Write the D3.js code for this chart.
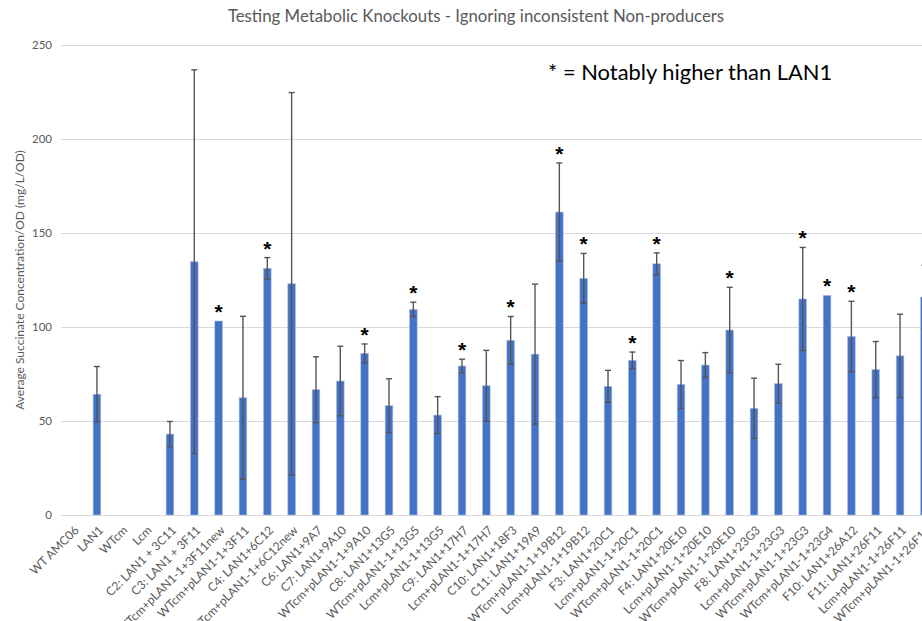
<!DOCTYPE html>
<html>
<head>
<meta charset="utf-8">
<script src="https://cdn.jsdelivr.net/npm/d3@7"></script>
<style>
  html, body { margin: 0; padding: 0; background: #fff; overflow: hidden; }
  svg { display: block; }
</style>
</head>
<body>
<script>
// Strains / constructs tested
const categories = [
  "WT AMC06", "LAN1", "WTcm", "Lcm",
  "C2: LAN1 + 3C11", "C3: LAN1 + 3F11", "WTcm+pLAN1-1+3F11new", "WTcm+pLAN1-1+3F11",
  "C4: LAN1+6C12", "WTcm+pLAN1-1+6C12new", "C6: LAN1+9A7", "C7: LAN1+9A10",
  "WTcm+pLAN1-1+9A10", "C8: LAN1+13G5", "WTcm+pLAN1-1+13G5", "Lcm+pLAN1-1+13G5",
  "C9: LAN1+17H7", "Lcm+pLAN1-1+17H7", "C10: LAN1+18F3", "C11: LAN1+19A9",
  "WTcm+pLAN1-1+19B12", "Lcm+pLAN1-1+19B12", "F3: LAN1+20C1", "Lcm+pLAN1-1+20C1",
  "WTcm+pLAN1-1+20C1", "F4: LAN1+20E10", "Lcm+pLAN1-1+20E10", "WTcm+pLAN1-1+20E10",
  "F8: LAN1+23G3", "Lcm+pLAN1-1+23G3", "WTcm+pLAN1-1+23G3", "WTcm+pLAN1-1+23G4",
  "F10: LAN1+26A12", "F11: LAN1+26F11", "Lcm+pLAN1-1+26F11", "WTcm+pLAN1-1+26F11"
];

// Average succinate concentration / OD (mg/L/OD)
const means = [
  0, 64.2, 0, 0,
  43.0, 134.6, 103.1, 62.3,
  131.1, 122.9, 66.6, 71.2,
  85.9, 58.1, 109.3, 53.1,
  79.2, 68.7, 92.8, 85.5,
  161.0, 125.8, 68.4, 82.2,
  133.5, 69.4, 79.7, 98.3,
  56.7, 69.8, 114.8, 116.7,
  94.9, 77.3, 84.6, 115.8
];

// Error bar half-widths (same units)
const errors = [
  0, 14.7, 0, 0,
  6.7, 102.0, 0, 43.3,
  5.7, 101.6, 17.5, 18.5,
  5.0, 14.3, 3.8, 9.8,
  3.6, 18.8, 12.7, 37.2,
  26.1, 13.2, 8.5, 4.4,
  5.8, 12.7, 6.6, 22.7,
  16.0, 10.3, 27.4, 0,
  18.7, 14.9, 22.1, 17.0
];

// Constructs flagged as notably higher than LAN1
const notable = [
  "WTcm+pLAN1-1+3F11new", "C4: LAN1+6C12", "WTcm+pLAN1-1+9A10", "WTcm+pLAN1-1+13G5",
  "C9: LAN1+17H7", "C10: LAN1+18F3", "WTcm+pLAN1-1+19B12", "Lcm+pLAN1-1+19B12",
  "Lcm+pLAN1-1+20C1", "WTcm+pLAN1-1+20C1", "WTcm+pLAN1-1+20E10", "WTcm+pLAN1-1+23G3",
  "WTcm+pLAN1-1+23G4", "F10: LAN1+26A12"
];

const yTicks = [0, 50, 100, 150, 200, 250];

const titleText = "Testing Metabolic Knockouts - Ignoring inconsistent Non-producers";
const yTitle = "Average Succinate Concentration/OD (mg/L/OD)";
const noteText = "* = Notably higher than LAN1";

const W = 922, H = 621;
const FONT = "Lato, 'Open Sans', sans-serif";
const GREY = "#595959";

const data = categories.map((c, i) => ({ name: c, mean: means[i], err: errors[i] }));

const svg = d3.select("body").append("svg")
  .attr("width", W).attr("height", H)
  .style("font-family", FONT);

// The category axis runs past the right edge of the page, so the last strain is cut off.
const x = d3.scaleBand().domain(categories).range([60.5, 936.5]).paddingInner(0.685).paddingOuter(0.34);
const y = d3.scaleLinear().domain([0, 250]).range([515, 44.6]);

// Gridlines
svg.append("g").selectAll("line").data(yTicks).join("line")
  .attr("x1", 61).attr("x2", W)
  .attr("y1", d => Math.round(y(d)) + 0.5).attr("y2", d => Math.round(y(d)) + 0.5)
  .attr("stroke", "#d9d9d9").attr("stroke-width", 1);

// Y axis tick labels
const yAxis = d3.axisLeft(y).tickValues(yTicks).tickSize(0).tickPadding(0);
const yg = svg.append("g").attr("transform", "translate(52,0)").call(yAxis);
yg.select(".domain").remove();
yg.selectAll("text")
  .attr("fill", GREY).style("font-family", FONT).style("font-size", "11.5px");

// Bars
svg.append("g").selectAll("rect").data(data.filter(d => d.mean > 0)).join("rect")
  .attr("x", d => x(d.name))
  .attr("width", x.bandwidth())
  .attr("y", d => y(d.mean))
  .attr("height", d => y(0) - y(d.mean))
  .attr("fill", "#4472C4")
  .attr("stroke", "#a9bfe6").attr("stroke-width", 0.6);

// Error bars
const eb = svg.append("g").attr("stroke", "#555555").attr("stroke-width", 1.4).attr("fill", "none");
const withErr = data.filter(d => d.err > 0);
const cx = d => x(d.name) + x.bandwidth() / 2;
eb.selectAll("line.v").data(withErr).join("line").attr("class", "v")
  .attr("x1", cx).attr("x2", cx)
  .attr("y1", d => y(d.mean + d.err)).attr("y2", d => y(d.mean - d.err));
eb.selectAll("line.t").data(withErr).join("line").attr("class", "t")
  .attr("x1", d => cx(d) - 3).attr("x2", d => cx(d) + 3)
  .attr("y1", d => y(d.mean + d.err)).attr("y2", d => y(d.mean + d.err));
eb.selectAll("line.b").data(withErr).join("line").attr("class", "b")
  .attr("x1", d => cx(d) - 3).attr("x2", d => cx(d) + 3)
  .attr("y1", d => y(d.mean - d.err)).attr("y2", d => y(d.mean - d.err));

// Asterisks above notable strains
svg.append("g").selectAll("text").data(data.filter(d => notable.includes(d.name))).join("text")
  .attr("x", cx)
  .attr("y", d => y(d.mean + d.err) - 2)
  .attr("text-anchor", "middle")
  .attr("fill", "#000")
  .style("font-family", "'Liberation Sans', Arial, sans-serif")
  .style("font-size", "21px")
  .style("font-weight", "bold")
  .text("*");

// X axis category labels, rotated
const xg = svg.append("g");
xg.selectAll("text").data(categories).join("text")
  .attr("transform", d => `translate(${x(d) + x.bandwidth() / 2 + 4},${528}) rotate(-45)`)
  .attr("text-anchor", "end")
  .attr("dy", "0.35em")
  .attr("fill", GREY)
  .style("font-size", "12px")
  .text(d => d);

// Title
svg.append("text")
  .attr("x", 476).attr("y", 22)
  .attr("text-anchor", "middle")
  .attr("fill", GREY)
  .style("font-size", "16.8px")
  .text(titleText);

// Y axis title
svg.append("text")
  .attr("transform", "translate(24,280) rotate(-90)")
  .attr("text-anchor", "middle")
  .attr("fill", GREY)
  .style("font-size", "12px")
  .text(yTitle);

// Note
svg.append("text")
  .attr("x", 548).attr("y", 80)
  .attr("fill", "#000")
  .style("font-size", "21.9px")
  .text(noteText);
</script>
</body>
</html>
